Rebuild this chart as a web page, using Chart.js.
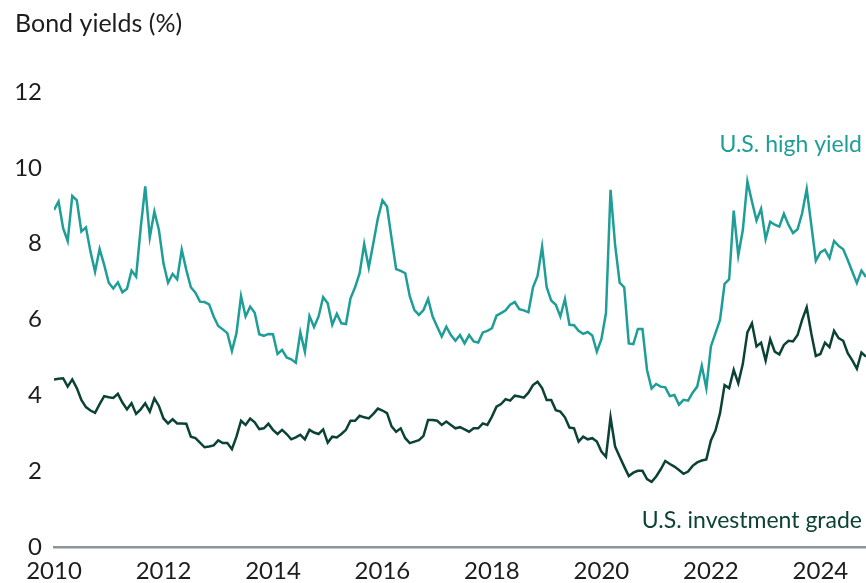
<!DOCTYPE html>
<html>
<head>
<meta charset="utf-8">
<style>
  html, body { margin: 0; padding: 0; background: #fff; }
  #wrap { width: 866px; height: 583px; }
</style>
<script src="https://cdn.jsdelivr.net/npm/chart.js@4.4.1/dist/chart.umd.min.js"></script>
</head>
<body>
<div id="wrap"><canvas id="chart" width="866" height="583"></canvas></div>
<script>
// monthly yields, Jan 2010 onwards
var startYear = 2010;
var highYield = [
  8.89, 9.11, 8.41, 8.07, 9.26, 9.14, 8.32, 8.43, 7.79, 7.26, 7.86, 7.44,
  6.97, 6.82, 6.98, 6.72, 6.81, 7.29, 7.13, 8.41, 9.51, 8.17, 8.85, 8.36,
  7.48, 6.97, 7.20, 7.06, 7.84, 7.31, 6.85, 6.71, 6.47, 6.46, 6.40, 6.08,
  5.83, 5.74, 5.64, 5.17, 5.64, 6.62, 6.08, 6.34, 6.18, 5.61, 5.57, 5.62,
  5.61, 5.09, 5.20, 5.00, 4.95, 4.86, 5.66, 5.15, 6.09, 5.80, 6.08, 6.59,
  6.43, 5.86, 6.15, 5.90, 5.88, 6.56, 6.85, 7.22, 7.99, 7.37, 8.01, 8.67,
  9.14, 8.98, 8.14, 7.33, 7.28, 7.22, 6.61, 6.25, 6.12, 6.25, 6.54, 6.08,
  5.81, 5.55, 5.81, 5.59, 5.44, 5.59, 5.37, 5.59, 5.42, 5.39, 5.66, 5.70,
  5.77, 6.10, 6.17, 6.24, 6.39, 6.46, 6.27, 6.24, 6.19, 6.85, 7.15, 7.92,
  6.85, 6.50, 6.39, 6.08, 6.54, 5.86, 5.85, 5.70, 5.62, 5.67, 5.58, 5.15,
  5.48, 6.17, 9.42, 7.97, 6.97, 6.85, 5.37, 5.35, 5.75, 5.75, 4.67, 4.18,
  4.30, 4.23, 4.21, 3.98, 4.01, 3.75, 3.88, 3.86, 4.07, 4.23, 4.78, 4.19,
  5.29, 5.64, 5.99, 6.94, 7.06, 8.87, 7.69, 8.36, 9.64, 9.11, 8.61, 8.92,
  8.12, 8.58, 8.50, 8.45, 8.79, 8.50, 8.28, 8.38, 8.80, 9.44, 8.50, 7.55,
  7.77, 7.84, 7.62, 8.07, 7.94, 7.85, 7.57, 7.26, 6.96, 7.29, 7.12
];
var investmentGrade = [
  4.42, 4.44, 4.45, 4.23, 4.42, 4.19, 3.88, 3.69, 3.60, 3.54, 3.77, 3.98,
  3.95, 3.93, 4.04, 3.81, 3.63, 3.79, 3.51, 3.63, 3.79, 3.57, 3.92, 3.72,
  3.39, 3.26, 3.37, 3.26, 3.26, 3.25, 2.91, 2.87, 2.75, 2.63, 2.65, 2.68,
  2.81, 2.74, 2.74, 2.58, 2.91, 3.33, 3.22, 3.39, 3.29, 3.11, 3.13, 3.25,
  3.09, 2.98, 3.09, 2.98, 2.84, 2.89, 2.96, 2.84, 3.09, 3.02, 2.98, 3.10,
  2.75, 2.91, 2.89, 2.98, 3.09, 3.33, 3.33, 3.46, 3.42, 3.39, 3.51, 3.65,
  3.60, 3.53, 3.18, 3.04, 3.13, 2.87, 2.74, 2.78, 2.82, 2.93, 3.35, 3.35,
  3.33, 3.22, 3.31, 3.22, 3.13, 3.16, 3.10, 3.04, 3.13, 3.13, 3.26, 3.22,
  3.44, 3.70, 3.77, 3.90, 3.86, 3.99, 3.97, 3.94, 4.07, 4.27, 4.36, 4.19,
  3.88, 3.88, 3.61, 3.57, 3.42, 3.15, 3.13, 2.78, 2.91, 2.84, 2.87, 2.78,
  2.52, 2.38, 3.42, 2.65, 2.38, 2.12, 1.87, 1.96, 2.01, 2.01, 1.79, 1.72,
  1.86, 2.05, 2.27, 2.19, 2.12, 2.03, 1.93, 1.99, 2.14, 2.23, 2.28, 2.31,
  2.81, 3.07, 3.53, 4.27, 4.19, 4.67, 4.32, 4.83, 5.66, 5.90, 5.29, 5.39,
  4.92, 5.48, 5.15, 5.08, 5.33, 5.44, 5.42, 5.59, 5.99, 6.32, 5.64, 5.04,
  5.09, 5.39, 5.27, 5.70, 5.51, 5.44, 5.11, 4.92, 4.70, 5.13, 5.02
];
var yearTicks = [2010, 2012, 2014, 2016, 2018, 2020, 2022, 2024];
var yTicks = [0, 2, 4, 6, 8, 10, 12];

var teal = "#1f9e98";
var darkGreen = "#0c4236";
var ink = "#1d1d1b";
var axisGrey = "#8d959a";
var font = "Lato";

function toPoints(values) {
  return values.map(function(v, i) { return { x: startYear + i / 12, y: v }; });
}

// title and series names
var textPlugin = {
  id: "textLabels",
  afterDatasetsDraw: function(chart) {
    var ctx = chart.ctx, area = chart.chartArea, y = chart.scales.y;
    ctx.save();
    ctx.textBaseline = "alphabetic";
    ctx.textAlign = "left";
    ctx.fillStyle = ink;
    ctx.font = "25px " + font;
    ctx.fillText("Bond yields (%)", 15, 32);
    ctx.textAlign = "right";
    ctx.font = "23px " + font;
    ctx.fillStyle = teal;
    ctx.fillText("U.S. high yield", area.right - 4, y.getPixelForValue(10.42));
    ctx.fillStyle = darkGreen;
    ctx.fillText("U.S. investment grade", area.right - 4, y.getPixelForValue(0.5));
    ctx.restore();
  }
};

new Chart(document.getElementById("chart"), {
  type: "line",
  data: {
    datasets: [
      { label: "U.S. high yield", data: toPoints(highYield), borderColor: teal },
      { label: "U.S. investment grade", data: toPoints(investmentGrade), borderColor: darkGreen }
    ]
  },
  options: {
    responsive: false,
    animation: false,
    layout: { padding: { top: 92, left: 0, right: 0, bottom: 0 } },
    elements: {
      line: { borderWidth: 2.5, tension: 0, fill: false },
      point: { radius: 0 }
    },
    plugins: { legend: { display: false }, tooltip: { enabled: false } },
    scales: {
      x: {
        type: "linear",
        min: startYear,
        max: startYear + (highYield.length - 1) / 12,
        afterBuildTicks: function(s) { s.ticks = yearTicks.map(function(v) { return { value: v }; }); },
        afterFit: function(s) { s.height = 36; },
        grid: { display: false, drawTicks: false },
        border: { display: true, color: axisGrey, width: 2.5 },
        ticks: {
          color: ink, padding: 10, maxRotation: 0, autoSkip: false,
          font: { family: font, size: 24 },
          callback: function(v) { return String(v); }
        }
      },
      y: {
        min: 0,
        max: 12,
        afterBuildTicks: function(s) { s.ticks = yTicks.map(function(v) { return { value: v }; }); },
        afterFit: function(s) { s.width = 54; },
        grid: { display: false, drawTicks: false },
        border: { display: false },
        ticks: { color: ink, padding: 12, font: { family: font, size: 24 } }
      }
    }
  },
  plugins: [textPlugin]
});
</script>
</body>
</html>
